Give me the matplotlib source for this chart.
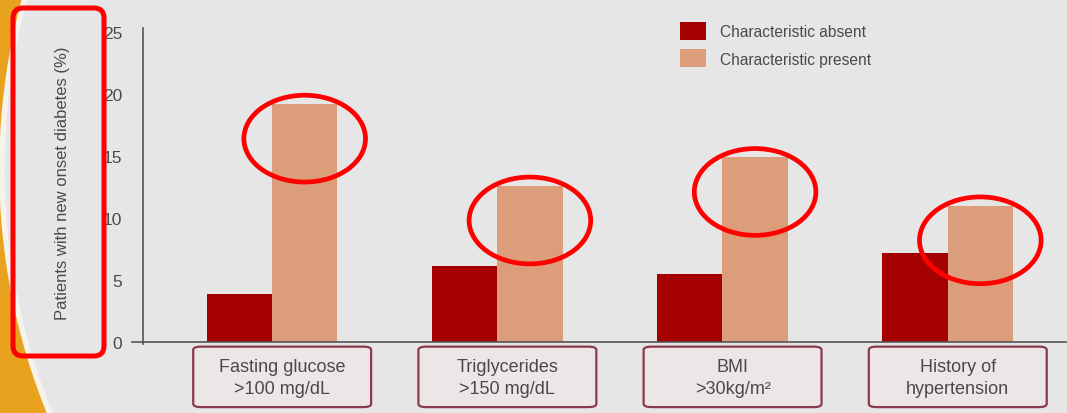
import numpy as np
import matplotlib
matplotlib.use('Agg')
import matplotlib.pyplot as plt
from matplotlib.patches import FancyBboxPatch, Ellipse, Circle
from matplotlib.transforms import blended_transform_factory

plt.rcParams['font.family'] = ['Liberation Sans', 'DejaVu Sans']

# new onset diabetes (%) by risk factor
categories = ['Fasting glucose\n>100 mg/dL', 'Triglycerides\n>150 mg/dL',
              'BMI\n>30kg/m\u00b2', 'History of\nhypertension']
absent = [3.9, 6.1, 5.5, 7.2]
present = [19.2, 12.6, 14.9, 11.0]
yticks = [0, 5, 10, 15, 20, 25]
series_names = ['Characteristic absent', 'Characteristic present']

BG = '#e6e6e6'
C_ABS = '#a50000'
C_PRE = '#dc9d7b'
TXT = '#4a4a4a'
W, H = 1067, 414

fig = plt.figure(figsize=(W / 100, H / 100), dpi=100)
fig.patch.set_facecolor('#e8a21e')

# slide background in pixel units: grey disc leaves an orange sliver on the left
bg = fig.add_axes([0, 0, 1, 1], zorder=-5)
bg.set_xlim(0, W)
bg.set_ylim(H, 0)
bg.axis('off')
bg.add_patch(Circle((650, 170), 648, facecolor=BG, edgecolor='#f6f2ec',
                    linewidth=4))

ax = fig.add_axes([143 / W, 1 - 343 / H, 1 - 143 / W, 310 / H])
ax.set_facecolor('none')

x = np.arange(len(categories))
bw = 0.29
ax.bar(x - bw / 2, absent, bw, color=C_ABS, label=series_names[0], zorder=2)
ax.bar(x + bw / 2, present, bw, color=C_PRE, label=series_names[1], zorder=2)

ax.set_xlim(-0.573, 3.53)
ax.set_ylim(0, 25)
ax.set_yticks(yticks)
ax.set_yticklabels([str(t) for t in yticks], fontsize=12.5, color=TXT)
ax.tick_params(axis='y', length=0, pad=15)
ax.set_xticks([])

for s in ['top', 'right']:
    ax.spines[s].set_visible(False)
ax.spines['left'].set_color('#555555')
ax.spines['bottom'].set_color('#555555')
ax.spines['left'].set_bounds(-0.2, 25.3)
ax.spines['left'].set_linewidth(1.2)
ax.spines['bottom'].set_linewidth(1.2)
ax.plot([-0.62, -0.573], [0, 0], color='#555555', lw=1.2, clip_on=False)

fig.text(63 / W, 1 - 183 / H, 'Patients with new onset diabetes (%)',
         rotation=90, ha='center', va='center', fontsize=12, color=TXT)

# category labels in rounded boxes under the axis
tr = blended_transform_factory(ax.transData, ax.transAxes)
for xi, lab in zip(x, categories):
    box = FancyBboxPatch((xi - 0.39 + 0.04, -0.21), 0.79, 0.195,
                         boxstyle='round,pad=0,rounding_size=0.035',
                         transform=tr, facecolor='#ece6e6', edgecolor='#8a3a4c',
                         linewidth=1.6, clip_on=False, mutation_aspect=0.3)
    ax.add_patch(box)
    ax.text(xi + 0.045, -0.115, lab, transform=tr, ha='center', va='center',
            fontsize=13, color=TXT, linespacing=1.4)

leg = ax.legend(loc='upper left', bbox_to_anchor=(0.566, 1.078), frameon=False,
                fontsize=11.2, handlelength=1.65, handleheight=1.4,
                labelspacing=0.62, handletextpad=0.95)
for t in leg.get_texts():
    t.set_color(TXT)

# red highlight marks around the "present" bar tops
for xi, v in zip(x, present):
    ax.add_patch(Ellipse((xi + bw / 2, v - 2.8), 0.54, 7.0, fill=False,
                         edgecolor='#ff0000', linewidth=3.4, zorder=5,
                         clip_on=False))

# red frame around the axis title
top = fig.add_axes([0, 0, 1, 1], zorder=10)
top.set_xlim(0, W)
top.set_ylim(H, 0)
top.axis('off')
top.add_patch(FancyBboxPatch((13, 9), 91, 348,
                             boxstyle='round,pad=0,rounding_size=10',
                             fill=False, edgecolor='#ff0000', linewidth=3.6))

fig.savefig('out.png', dpi=100, facecolor=fig.get_facecolor())
